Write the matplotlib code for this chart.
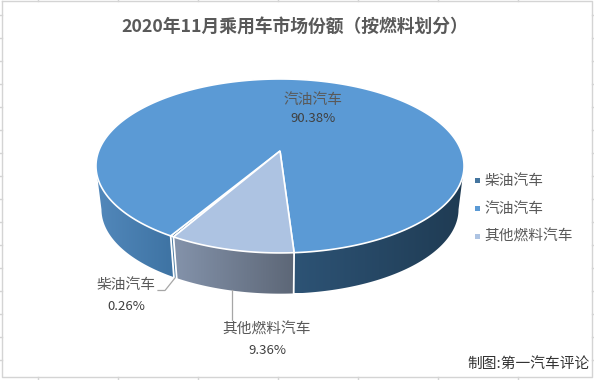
import numpy as np
from matplotlib import pyplot as plt
from matplotlib.patches import Polygon, Rectangle

categories = ["柴油汽车", "汽油汽车", "其他燃料汽车"]
shares = [0.26, 90.38, 9.36]
title = "2020年11月乘用车市场份额（按燃料划分）"
credit = "制图:第一汽车评论"
first_slice = 210

top_colors = ["#44759f", "#5b9ad5", "#adc3e2"]
CX, CY, RX, RY, K = 280, 151, 181.3, 84.4, 0.172
LOWER_SCALE, LOWER_DY = 0.97, 43.8
WHITE = "white"

plt.rcParams["font.family"] = ["Noto Sans CJK SC", "DejaVu Sans"]


def rim(angles, lower=False):
    # pie rim seen in perspective, angles clockwise from 12 o'clock
    a = np.radians(angles)
    x, z = np.sin(a), -np.cos(a)
    s = 1 / (1 - K * z)
    if lower:
        return CX + LOWER_SCALE * RX * x * s, CY + LOWER_DY + LOWER_SCALE * RY * z * s
    return CX + RX * x * s, CY + RY * z * s


def side(ax, a0, a1, left, right):
    # outer wall between two angles, filled with a left to right gradient
    angles = np.linspace(a0, a1, 80)
    xt, yt = rim(angles)
    xb, yb = rim(angles, lower=True)
    pts = np.vstack([np.column_stack([xt, yt]), np.column_stack([xb, yb])[::-1]])
    poly = Polygon(pts, closed=True, facecolor="none", edgecolor="none", zorder=2)
    ax.add_patch(poly)
    c0, c1 = np.array(plt.matplotlib.colors.to_rgb(left)), np.array(plt.matplotlib.colors.to_rgb(right))
    grad = np.linspace(c0, c1, 128)[None, :, :]
    im = ax.imshow(grad, extent=(pts[:, 0].min(), pts[:, 0].max(), pts[:, 1].max(), pts[:, 1].min()),
                   aspect="auto", zorder=2, interpolation="bilinear")
    im.set_clip_path(poly)


def sheet_grid(ax):
    # spreadsheet cells showing around the chart
    c = "#d4d4d4"
    ax.plot([2, 2, 591.5, 591.5, 2], [1, 377, 377, 1, 1], color=c, lw=1, zorder=1)
    for x in range(38, 594, 80):
        ax.plot([x, x], [0, 1], color=c, lw=1, zorder=1)
        ax.plot([x, x], [377, 380], color=c, lw=1, zorder=1)
    for y in range(15, 377, 23):
        ax.plot([0, 2], [y, y], color=c, lw=1, zorder=1)
        ax.plot([591.5, 594], [y, y], color=c, lw=1, zorder=1)


def main():
    fig = plt.figure(figsize=(5.94, 3.80), dpi=100)
    ax = fig.add_axes([0, 0, 1, 1])
    sheet_grid(ax)

    spans = np.array(shares) * 3.6
    starts = first_slice + np.concatenate([[0], np.cumsum(spans)[:-1]])
    ends = starts + spans
    d0, d1 = starts[0], ends[0]
    g1 = ends[1] - 360
    o0, o1 = starts[2] - 360, ends[2] - 360

    # walls first, the top covers their upper edge
    side(ax, 100, g1, "#2d5375", "#1f3b53")
    side(ax, o0, o1, "#8493ab", "#5d6777")
    side(ax, d0, d1, "#44759f", "#44759f")
    side(ax, d1, 260, "#5288bb", "#3e73a3")
    for a in [g1, o1, d1]:
        xt, yt = rim(np.array([a]))
        xb, yb = rim(np.array([a]), lower=True)
        ax.plot([xt[0], xb[0]], [yt[0], yb[0]], color=WHITE, lw=1.3, zorder=3)

    # pie top
    for a0, a1, c in zip(starts, ends, top_colors):
        x, y = rim(np.linspace(a0, a1, 300))
        pts = np.vstack([[CX, CY], np.column_stack([x, y])])
        ax.add_patch(Polygon(pts, closed=True, facecolor=c, edgecolor=WHITE, lw=1.2, zorder=4))

    # data labels
    label_pos = [(126, 285, 307), (313, 100, 119), (267, 330, 351)]
    for name, v, (x, y1, y2) in zip(categories, shares, label_pos):
        ax.text(x, y1, name, color="#595959", fontsize=10.6, ha="center", va="center", zorder=6)
        ax.text(x, y2, "%.2f%%" % v, color="#404040", fontsize=9.5, ha="center", va="center", zorder=6)
    ax.plot([175, 165, 158], [278, 290.5, 290.5], color="#a6a6a6", lw=0.9, zorder=5)
    ax.plot([232, 232], [290, 320], color="#a6a6a6", lw=0.9, zorder=5)

    # legend
    for i, (name, c) in enumerate(zip(categories, top_colors)):
        y = 180.5 + 28 * i
        ax.add_patch(Rectangle((474.5, y - 2.5), 5, 5, facecolor=c, edgecolor="none", zorder=6))
        ax.text(484.5, y, name, color="#595959", fontsize=10.6, ha="left", va="center", zorder=6)

    ax.text(295, 28, title, color="#595959", fontsize=12.8, fontweight="bold", ha="center", va="center")
    ax.text(590, 364, credit, color="#333333", fontsize=10.6, ha="right", va="center", zorder=6)

    ax.set_xlim(0, 594)
    ax.set_ylim(380, 0)
    ax.axis("off")
    fig.savefig("out.png", dpi=100, facecolor="white")


if __name__ == "__main__":
    main()
